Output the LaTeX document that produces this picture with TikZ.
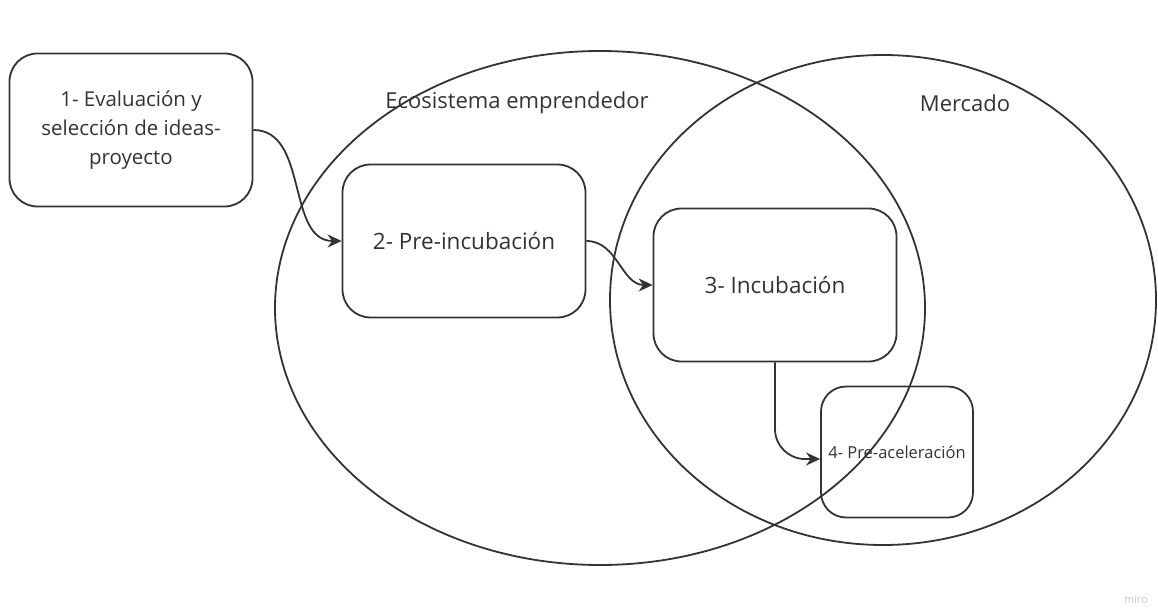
\documentclass[tikz,border=0pt]{standalone}
\usepackage{fontspec}
\setmainfont{Open Sans}
\usetikzlibrary{shapes.geometric,arrows.meta}
\definecolor{inkgray}{HTML}{333333}
\definecolor{logogray}{HTML}{C8C8C8}
\begin{document}
\begin{tikzpicture}[
        x=1pt, y=-1pt,
        fase/.style={rectangle, draw=inkgray, line width=1.8pt, rounded corners=28pt, text=inkgray, align=center, minimum width=243pt, minimum height=153pt, font=\fontsize{22.5}{29}\selectfont},
        zona/.style={ellipse, draw=inkgray, line width=1.8pt, inner sep=0pt},
        rotulo/.style={text=inkgray, font=\fontsize{22}{29}\selectfont},
        flecha/.style={draw=inkgray, line width=1.8pt, -{Stealth[length=14pt, width=13pt]}}
    ]
    \useasboundingbox (0,0) rectangle (1158,612);
    \node[zona, minimum width=650pt, minimum height=514pt] (eco) at (600,308) {};
    \node[zona, minimum width=546pt, minimum height=490pt] (mercado) at (883,300) {};
    \node[rotulo] (ecolbl) at (517,103) {Ecosistema emprendedor};
    \node[rotulo] (merlbl) at (965,103) {Mercado};
    \node[fase, font=\fontsize{20.5}{29}\selectfont] (ideas) at (131,130) {1- Evaluación y\\selección de ideas-\\proyecto};
    \node[fase] (preinc) at (464,241) {2- Pre-incubación};
    \node[fase] (incub) at (775,285) {3- Incubación};
    \node[fase, minimum width=152pt, minimum height=131pt, rounded corners=25pt, font=\fontsize{16.5}{20}\selectfont] (preacc) at (897,452) {4- Pre-aceleración};
    \draw[flecha] (ideas.east) to[out=0, in=180] (preinc.west);
    \draw[flecha] (preinc.east) to[out=0, in=180] (incub.west);
    \draw[flecha, rounded corners=30pt] (incub.south) |- ([yshift=-7pt]preacc.west);
    \node[text=logogray, font=\fontsize{11}{13}\selectfont] (logo) at (1136,600) {miro};
\end{tikzpicture}
\end{document}
